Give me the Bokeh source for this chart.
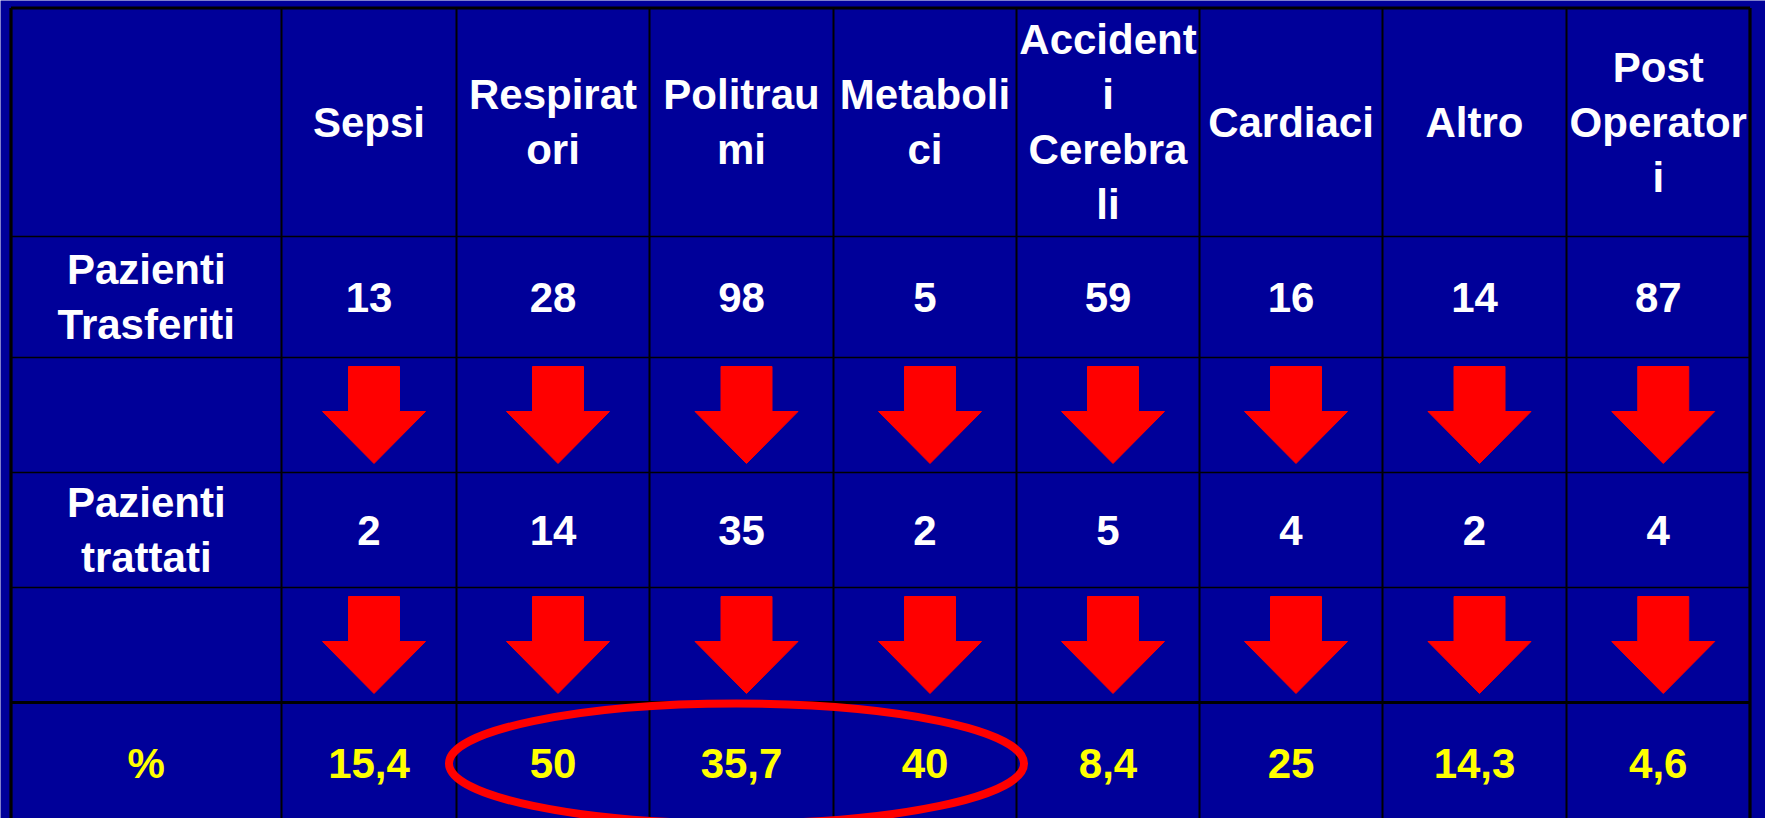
from bokeh.plotting import figure
from bokeh.models import Range1d
from bokeh.embed import file_html
from bokeh.resources import INLINE
from bokeh.core.properties import value

# ---------------- data ----------------
categories = ["Sepsi", "Respirat\nori", "Politrau\nmi", "Metaboli\nci",
              "Accident\ni\nCerebra\nli", "Cardiaci", "Altro", "Post\nOperator\ni"]
row_labels = ["Pazienti\nTrasferiti", "Pazienti\ntrattati", "%"]
trasferiti = [13, 28, 98, 5, 59, 16, 14, 87]
trattati = [2, 14, 35, 2, 5, 4, 2, 4]
percentuale = [15.4, 50, 35.7, 40, 8.4, 25, 14.3, 4.6]
evidenziati = ["Respirat\nori", "Politrau\nmi", "Metaboli\nci"]

# ---------------- layout (pixels) ----------------
W, H = 1765, 818
col_edges = [10.5, 281, 456, 649, 833, 1016, 1199, 1382, 1566, 1749.5]
row_edges = [7.5, 236, 357, 472, 587, 702, 840]
BLUE = "#000099"
FONT = value("Liberation Sans")

p = figure(width=W, height=H, x_range=Range1d(0, W), y_range=Range1d(H, 0),
           output_backend="svg", toolbar_location=None, min_border=0)
p.axis.visible = False
p.grid.visible = False
p.outline_line_color = None
p.background_fill_color = BLUE
p.border_fill_color = BLUE

ncat = len(categories)
col_center = [(col_edges[i + 1] + col_edges[i + 2]) / 2 for i in range(ncat)]
label_cx = (col_edges[0] + col_edges[1]) / 2
row_center = [(row_edges[i] + row_edges[i + 1]) / 2 for i in range(6)]
row_center[5] = 763

# grid lines
inner_v = col_edges[1:-1]
p.segment(x0=inner_v, y0=[row_edges[0]] * len(inner_v), x1=inner_v, y1=[row_edges[-1]] * len(inner_v),
          line_color="black", line_width=2)
inner_h = row_edges[1:-2]
p.segment(x0=[col_edges[0]] * len(inner_h), y0=inner_h, x1=[col_edges[-1]] * len(inner_h), y1=inner_h,
          line_color="black", line_width=1.6)
p.segment(x0=[col_edges[0]], y0=[row_edges[5]], x1=[col_edges[-1]], y1=[row_edges[5]],
          line_color="black", line_width=2.8)
# outer border
p.segment(x0=[col_edges[0], col_edges[-1], col_edges[0]],
          y0=[row_edges[0], row_edges[0], row_edges[0]],
          x1=[col_edges[0], col_edges[-1], col_edges[-1]],
          y1=[row_edges[-1], row_edges[-1], row_edges[0]],
          line_color="black", line_width=3.2)

txt = dict(text_font=FONT, text_font_style="bold", text_font_size="42px",
           text_align="center", text_baseline="middle", text_line_height=1.17)

# header
p.text(x=col_center, y=[row_center[0]] * ncat, text=categories, text_color="white", **txt)
# row labels
p.text(x=[label_cx, label_cx], y=[row_center[1], row_center[3]], text=row_labels[:2],
       text_color="white", **txt)
p.text(x=[label_cx], y=[row_center[5]], text=[row_labels[2]], text_color="#FFFF00", **txt)
# values
p.text(x=col_center, y=[row_center[1]] * ncat, text=[str(v) for v in trasferiti],
       text_color="white", **txt)
p.text(x=col_center, y=[row_center[3]] * ncat, text=[str(v) for v in trattati],
       text_color="white", **txt)
p.text(x=col_center, y=[row_center[5]] * ncat,
       text=[f"{v:g}".replace(".", ",") for v in percentuale], text_color="#FFFF00", **txt)

# arrows
xs, ys = [], []
for r in (2, 4):
    top = row_edges[r]
    for cx in col_center:
        c = cx + 5
        s_top, h_base, tip = top + 9, top + 54, top + 106
        xs.append([c - 25.5, c + 25.5, c + 25.5, c + 51.5, c, c - 51.5, c - 25.5])
        ys.append([s_top, s_top, h_base, h_base, tip, h_base, h_base])
p.patches(xs=xs, ys=ys, fill_color="#FF0000", line_color="#FF0000", line_width=1)

# ellipse around highlighted categories
idx = [categories.index(c) for c in evidenziati]
x_left = col_edges[min(idx) + 1]
x_right = col_edges[max(idx) + 2]
p.ellipse(x=[(x_left + x_right) / 2], y=[row_center[5]], width=[x_right - x_left + 15],
          height=[120], fill_color=None, line_color="#FF0000", line_width=8)

open("out.html", "w").write(file_html(p, INLINE))
